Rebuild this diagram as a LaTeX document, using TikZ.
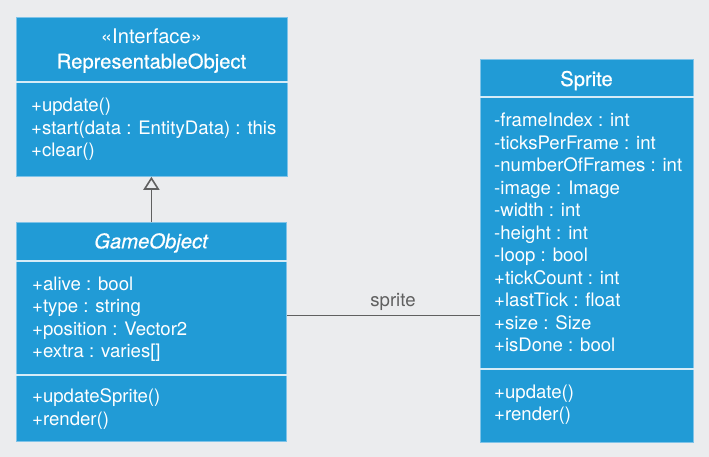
\documentclass[tikz,border=0pt]{standalone}
\usepackage{fontspec}
\setmainfont{TeX Gyre Heros}
\newfontfamily\titlefont[FakeBold=0.6]{TeX Gyre Heros}
\usetikzlibrary{arrows.meta}
\definecolor{bg}{HTML}{EBECEE}
\definecolor{boxblue}{HTML}{219BD6}
\definecolor{sepline}{HTML}{D6ECF7}
\definecolor{edgeblue}{HTML}{7FC3E8}
\definecolor{conn}{HTML}{606060}
\tikzset{
  classbox/.style={draw=edgeblue, line width=0.8pt, fill=boxblue, rectangle, inner sep=0pt, anchor=north west},
  sepl/.style={draw=sepline, line width=1.6pt},
  txt/.style={anchor=base west, inner sep=0pt, text=white, font=\fontsize{18.6}{22}\selectfont},
  ttl/.style={anchor=base, inner sep=0pt, text=white, font=\titlefont\fontsize{20.2}{22}\selectfont},
  connector/.style={draw=conn, line width=1.6pt},
}
\begin{document}
\begin{tikzpicture}[x=1pt,y=-1pt]
\fill[bg] (0,0) rectangle (709,457);
% RepresentableObject
\node[classbox, minimum width=271pt, minimum height=159pt] (rep) at (16,17) {};
\draw[sepl] (rep.west |- 0,82) -- (rep.east |- 0,82);
\node[ttl, font=\fontsize{20.2}{22}\selectfont] (repst) at (151.5,44) {«Interface»};
\node[ttl] (reptitle) at (151.5,68.5) {RepresentableObject};
\node[txt] (rm1) at (31,111.7) {+update()};
\node[txt] (rm2) at (31,134.3) {+start(data : EntityData) : this};
\node[txt] (rm3) at (31,156.8) {+clear()};
% GameObject
\node[classbox, minimum width=270pt, minimum height=219pt] (game) at (16,222) {};
\draw[sepl] (game.west |- 0,261) -- (game.east |- 0,261);
\draw[sepl] (game.west |- 0,375) -- (game.east |- 0,375);
\node[ttl, font=\titlefont\fontsize{20.2}{22}\selectfont\itshape] (gametitle) at (151,248.3) {GameObject};
\node[txt] (ga1) at (32,290) {+alive : bool};
\node[txt] (ga2) at (32,312.5) {+type : string};
\node[txt] (ga3) at (32,335) {+position : Vector2};
\node[txt] (ga4) at (32,357.5) {+extra : varies[]};
\node[txt] (gm1) at (32,402.7) {+updateSprite()};
\node[txt] (gm2) at (32,425.2) {+render()};
% Sprite
\node[classbox, minimum width=213pt, minimum height=382pt] (sprite) at (480,59.5) {};
\draw[sepl] (sprite.west |- 0,97) -- (sprite.east |- 0,97);
\draw[sepl] (sprite.west |- 0,369) -- (sprite.east |- 0,369);
\node[ttl] (spritetitle) at (586.5,86) {Sprite};
\node[txt] (s1) at (494,127.0) {-frameIndex : int};
\node[txt] (s2) at (494,149.5) {-ticksPerFrame : int};
\node[txt] (s3) at (494,171.9) {-numberOfFrames : int};
\node[txt] (s4) at (494,194.4) {-image : Image};
\node[txt] (s5) at (494,216.9) {-width : int};
\node[txt] (s6) at (494,239.4) {-height : int};
\node[txt] (s7) at (494,261.8) {-loop : bool};
\node[txt] (s8) at (494,284.3) {+tickCount : int};
\node[txt] (s9) at (494,306.8) {+lastTick : float};
\node[txt] (s10) at (494,329.2) {+size : Size};
\node[txt] (s11) at (494,351.7) {+isDone : bool};
\node[txt] (sm1) at (494,398.3) {+update()};
\node[txt] (sm2) at (494,420.7) {+render()};
% connectors
\draw[connector, -{Triangle[open, width=16pt, length=13pt, line width=1.6pt]}] (game.north) -- (game.north |- rep.south);
\draw[connector] (game.east |- 0,315.5) -- (sprite.west |- 0,315.5);
\node[anchor=base, inner sep=0pt, text=conn, font=\fontsize{18.6}{22}\selectfont] (assoclabel) at (393,306.7) {sprite};
\end{tikzpicture}
\end{document}
